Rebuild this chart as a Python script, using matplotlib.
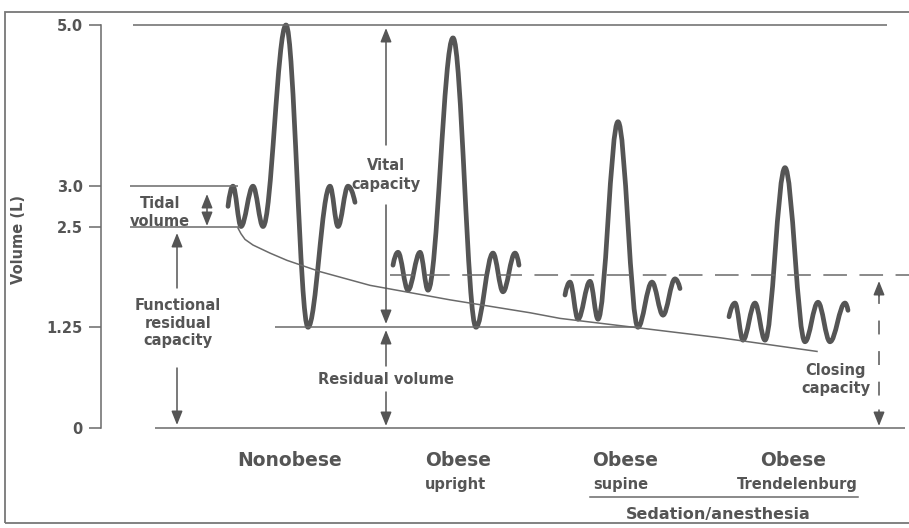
import matplotlib
matplotlib.use("Agg")
from matplotlib import pyplot as plt
from matplotlib.path import Path
from matplotlib.patches import PathPatch, Rectangle

# turning points of each spirometer trace (x = schematic time, y = volume in L)
nonobese_x = [228, 233, 241, 253, 263, 286, 308, 330, 338, 348, 355]
nonobese_v = [2.75, 3.0, 2.5, 3.0, 2.5, 5.0, 1.25, 3.0, 2.5, 3.0, 2.8]
upright_x = [393, 398, 408, 420, 428, 453, 476, 493, 503, 515, 519]
upright_v = [2.02, 2.18, 1.71, 2.18, 1.71, 4.84, 1.25, 2.17, 1.69, 2.17, 2.02]
supine_x = [565, 570, 578, 590, 598, 618, 638, 652, 663, 675, 680]
supine_v = [1.65, 1.81, 1.35, 1.82, 1.35, 3.80, 1.25, 1.81, 1.40, 1.85, 1.73]
trend_x = [729, 735, 743, 755, 765, 785, 805, 818, 830, 845, 848]
trend_v = [1.38, 1.55, 1.09, 1.55, 1.09, 3.23, 1.07, 1.56, 1.07, 1.55, 1.46]

# functional residual capacity falling off across the conditions
frc_x = [238, 241, 245, 253, 270, 287, 320, 370, 450, 530, 560, 640, 720, 817]
frc_v = [2.48, 2.41, 2.34, 2.27, 2.17, 2.08, 1.94, 1.77, 1.59, 1.43, 1.36, 1.24, 1.12, 0.95]

# horizontal reference levels (L) and their extents
guide_v = [5.0, 3.0, 2.5, 1.25, 0.0]
guide_x0 = [133, 130, 130, 275, 155]
guide_x1 = [887, 238, 240, 640, 905]
closing_v = 1.90

tick_vals = [0, 1.25, 2.5, 3.0, 5.0]
tick_labels = ["0", "1.25", "2.5", "3.0", "5.0"]

groups = ["Nonobese", "Obese", "Obese", "Obese"]
group_x = [290, 458, 625, 793]
subgroups = ["", "upright", "supine", "Trendelenburg"]
sub_x = [290, 456, 621, 797]

GRAY = "#555555"
LINE = "#6a6a6a"

plt.rcParams["font.family"] = ["DejaVu Sans"]
plt.rcParams["lines.scale_dashes"] = False

W, H = 909, 528
fig = plt.figure(figsize=(W / 100, H / 100), dpi=100)
ax = fig.add_axes([0, 0, 1, 1])


def vy(py):
    # pixel row -> volume, used only for placing labels
    return (428 - py) / 80.6


ax.set_xlim(0, W)
ax.set_ylim(vy(H), vy(0))
ax.patch.set_alpha(0)

for s in ["top", "right", "bottom"]:
    ax.spines[s].set_visible(False)
ax.spines["left"].set_position(("data", 101))
ax.spines["left"].set_bounds(0, 5)
ax.spines["left"].set_color(LINE)
ax.spines["left"].set_linewidth(1.1)
ax.set_xticks([])
ax.set_yticks(tick_vals)
ax.set_yticklabels(tick_labels)
ax.tick_params(axis="y", length=9, width=1.1, color=LINE, pad=4,
               labelsize=10.5, labelcolor=GRAY)
for t in ax.get_yticklabels():
    t.set_fontweight("bold")
ax.set_ylabel("Volume (L)", fontsize=10.5, fontweight="bold", color=GRAY)
ax.yaxis.set_label_coords(26 / W, (H - 240) / H)

# outer frame
fig.patches.append(Rectangle((5 / W, 5 / H), 915 / W, (523 - 12) / H,
                             transform=fig.transFigure, fill=False,
                             edgecolor="#777777", linewidth=1.3))

# reference levels
ax.hlines(guide_v, guide_x0, guide_x1, color=LINE, linewidth=1.1)
ax.plot([390, W], [closing_v, closing_v], color=LINE, linewidth=1.1,
        dashes=(17, 9))

# FRC curve
ax.plot(frc_x, frc_v, color=LINE, linewidth=1.1)


def trace(xs, vs, k=0.364):
    verts = [(xs[0], vs[0])]
    codes = [Path.MOVETO]
    n = len(xs)
    for i in range(1, n):
        x0, y0, x1, y1 = xs[i - 1], vs[i - 1], xs[i], vs[i]
        dx, dy = x1 - x0, y1 - y0
        c1 = (x0 + 0.3 * dx, y0 + 0.6 * dy) if i == 1 else (x0 + k * dx, y0)
        c2 = (x1 - 0.3 * dx, y1 - 0.6 * dy) if i == n - 1 else (x1 - k * dx, y1)
        verts += [c1, c2, (x1, y1)]
        codes += [Path.CURVE4] * 3
    ax.add_patch(PathPatch(Path(verts, codes), facecolor="none",
                           edgecolor="#555555", linewidth=3.4,
                           capstyle="round", joinstyle="round"))


trace(nonobese_x, nonobese_v)
trace(upright_x, upright_v)
trace(supine_x, supine_v)
trace(trend_x, trend_v)


def arrow(x, v_from, v_to, style="-|>"):
    ax.annotate("", xy=(x, v_to), xytext=(x, v_from),
                arrowprops=dict(arrowstyle=style + ",head_length=0.7,head_width=0.28",
                                color=GRAY, lw=1.1, mutation_scale=12,
                                shrinkA=0, shrinkB=0))


# tidal volume
arrow(207, vy(194), vy(226), "<|-|>")
# functional residual capacity
arrow(177, vy(288), vy(233))
arrow(177, vy(368), vy(425))
# vital capacity
arrow(386, vy(145), vy(28))
arrow(386, vy(205), vy(324))
# residual volume
arrow(386, vy(366), vy(330))
arrow(386, vy(392), vy(426))
# closing capacity (dashed)
ax.plot([879, 879], [vy(290), vy(418)], color=GRAY, linewidth=1.1,
        dashes=(10, 12))
arrow(879, vy(296), vy(281))
arrow(879, vy(410), vy(426))

txt = dict(color=GRAY, fontweight="bold", ha="center", va="center",
           linespacing=1.25)
ax.text(160, vy(212), "Tidal\nvolume", fontsize=10.5, **txt)
ax.text(178, vy(323), "Functional\nresidual\ncapacity", fontsize=10.5, **txt)
ax.text(386, vy(175), "Vital\ncapacity", fontsize=10.5, **txt)
ax.text(386, vy(379), "Residual volume", fontsize=10.5, **txt)
ax.text(836, vy(380), "Closing\ncapacity", fontsize=10.5, **txt)

for name, gx in zip(groups, group_x):
    ax.text(gx, vy(460), name, fontsize=13.5, **txt)
for name, sx in zip(subgroups, sub_x):
    if name:
        ax.text(sx, vy(484), name, fontsize=10.5, **txt)
ax.plot([590, 858], [vy(497), vy(497)], color=LINE, linewidth=1.1)
ax.text(718, vy(514), "Sedation/anesthesia", fontsize=11.5, **txt)

fig.savefig("out.png", dpi=100)
